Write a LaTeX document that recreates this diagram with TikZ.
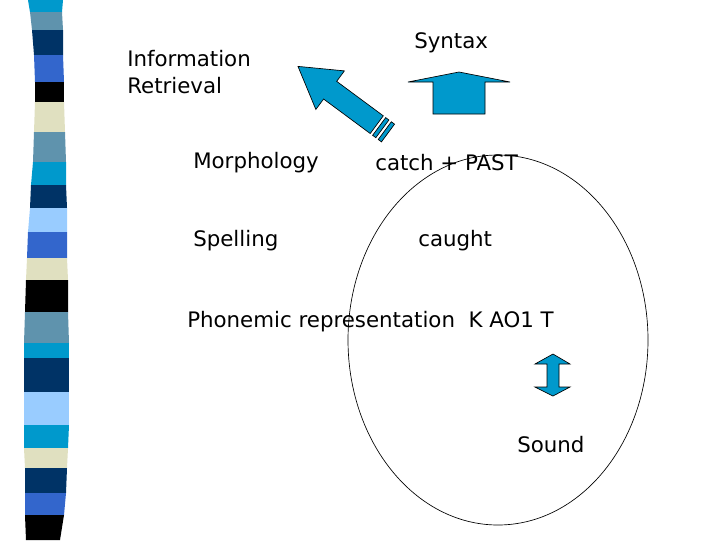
\documentclass[tikz,border=0pt]{standalone}
\usepackage{fontspec}
\usetikzlibrary{shapes.geometric}
\setmainfont{DejaVu Sans}
\begin{document}
\begin{tikzpicture}[x=0.75pt,y=-0.75pt,
  lbl/.style={anchor=west,inner sep=0pt,font=\fontsize{16}{20}\selectfont},
  arr/.style={fill={rgb,255:red,0;green,153;blue,204},draw=black,line width=0.5pt}]
\useasboundingbox (0,0) rectangle (720,540);
\definecolor{cy}{RGB}{0,153,204}
\definecolor{st}{RGB}{95,147,173}
\definecolor{nv}{RGB}{0,51,102}
\definecolor{rb}{RGB}{51,102,204}
\definecolor{bg}{RGB}{224,224,192}
\definecolor{lb}{RGB}{153,204,255}
\def\stripe#1#2#3#4#5#6#7{\fill[#1] (#2,#4) -- (#3,#4) -- (#6,#5) -- (#7,#5) -- cycle;}
\stripe{cy}{28}{63}{0}{12}{62}{30}
\stripe{st}{30}{62}{12}{30}{63}{32}
\stripe{nv}{32}{63}{30}{55}{63}{34}
\stripe{rb}{34}{63}{55}{82}{64}{35}
\stripe{black}{35}{64}{82}{102}{64}{35}
\stripe{bg}{35}{64}{102}{132}{65}{34}
\stripe{st}{34}{65}{132}{162}{66}{33}
\stripe{cy}{33}{66}{162}{185}{66}{31}
\stripe{nv}{31}{66}{185}{208}{67}{30}
\stripe{lb}{30}{67}{208}{232}{67}{28}
\stripe{rb}{28}{67}{232}{258}{67}{27}
\stripe{bg}{27}{67}{258}{280}{68}{26}
\stripe{black}{26}{68}{280}{312}{68}{25}
\stripe{st}{25}{68}{312}{343}{69}{24}
\stripe{cy}{24}{69}{343}{358}{69}{24}
\stripe{nv}{24}{69}{358}{392}{69}{24}
\stripe{lb}{24}{69}{392}{425}{69}{24}
\stripe{cy}{24}{69}{425}{448}{68}{24}
\stripe{bg}{24}{68}{448}{468}{67}{25}
\stripe{nv}{25}{67}{468}{493}{66}{25}
\stripe{rb}{25}{66}{493}{515}{64}{25}
\stripe{black}{25}{64}{515}{540}{60}{26}

\node[draw,ellipse,minimum width=225pt,minimum height=277.5pt,inner sep=0pt,line width=0.5pt] (ell) at (498,340) {};

\node[lbl,align=left] (ir) at (127,72) {Information\\Retrieval};
\node[lbl] (syn) at (414,43) {Syntax};
\node[lbl] (mor) at (193,163) {Morphology};
\node[lbl] (cat) at (375,163) {catch + PAST};
\node[lbl] (spe) at (193,241) {Spelling};
\node[lbl] (cau) at (418,241) {caught};
\node[lbl] (pho) at (187,322) {Phonemic representation\ \ K AO1 T};
\node[lbl] (snd) at (517,445) {Sound};

% up arrow
\draw[arr] (433,114) -- (433,82) -- (408,82) -- (459,72) -- (510,82) -- (485,82) -- (485,114) -- cycle;
% diagonal arrow
\begin{scope}[shift={(388,133)},x=0.75pt,y=0.75pt,rotate=143.5]
\draw[arr] (0,-11) rectangle (4,11);
\draw[arr] (7,-11) rectangle (11,11);
\draw[arr] (14,-11) -- (72,-11) -- (72,-24) -- (112,0) -- (72,24) -- (72,11) -- (14,11) -- cycle;
\end{scope}
% double arrow
\draw[arr] (553,354) -- (570,364) -- (559,364) -- (559,387) -- (570,387) -- (553,396) -- (535,387) -- (547,387) -- (547,364) -- (535,364) -- cycle;
\end{tikzpicture}
\end{document}
